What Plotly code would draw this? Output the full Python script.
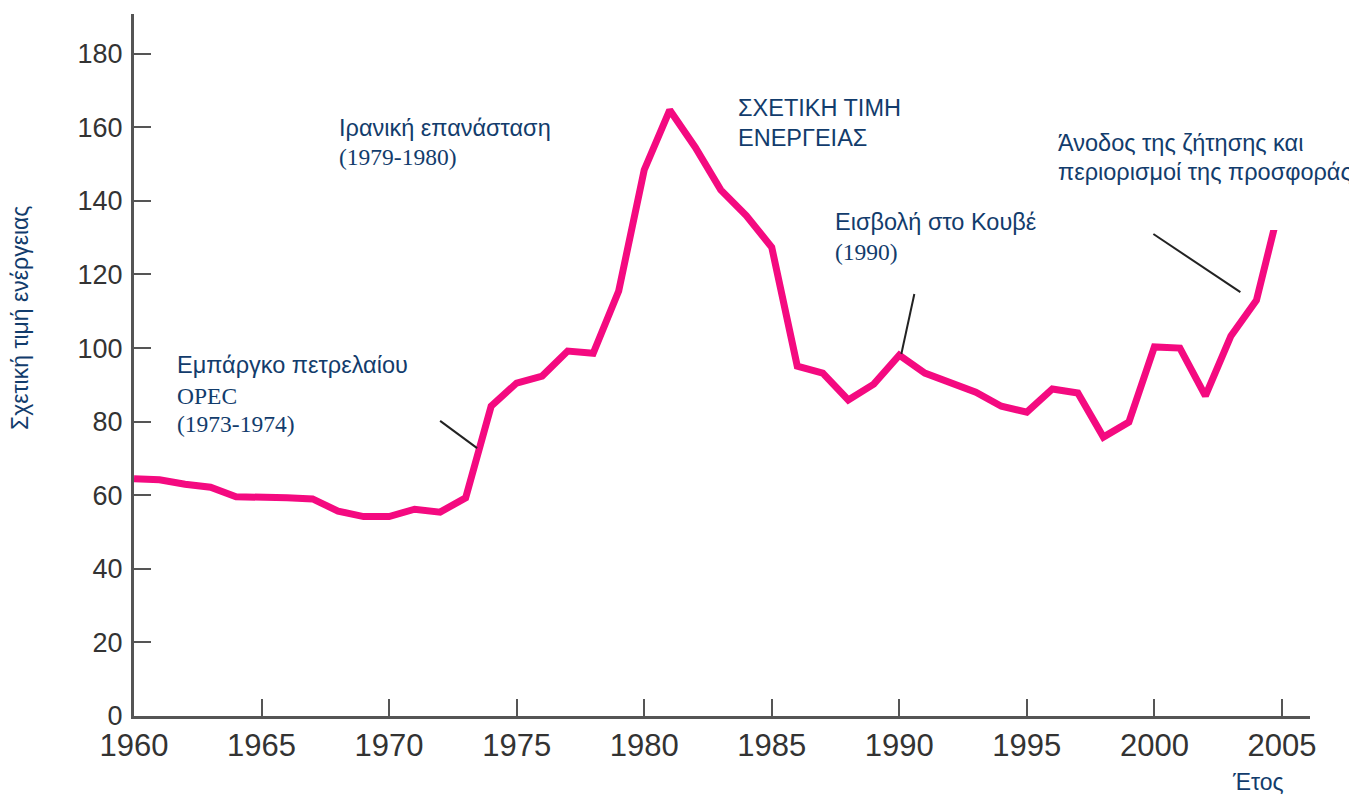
import plotly.graph_objects as go

years = list(range(1960, 2006))
price = [64.5, 64.2, 63.0, 62.2, 59.6, 59.6, 59.3, 59.0, 55.7, 54.2, 54.2, 56.2, 55.4, 59.3,
         84.2, 90.5, 92.4, 99.2, 98.6, 115.5, 148.4, 164.7, 154.6, 143.0, 136.0, 127.4,
         95.1, 93.2, 85.9, 90.2, 98.1, 93.2, 90.5, 88.0, 84.2, 82.6, 88.9, 87.8, 75.8,
         79.9, 100.3, 100.0, 87.0, 103.3, 113.0, 141.0]

x_ticks = [1960, 1965, 1970, 1975, 1980, 1985, 1990, 1995, 2000, 2005]
y_ticks = [0, 20, 40, 60, 80, 100, 120, 140, 160, 180]

NAVY = "#123c6c"
SANS = "Liberation Sans, Arial, sans-serif"
SERIF = "Liberation Serif, Times New Roman, serif"

fig = go.Figure()
fig.add_trace(go.Scatter(x=years, y=price, mode="lines",
                         line=dict(color="#f40a80", width=7),
                         hoverinfo="skip", showlegend=False))

# (text, x, y, font)
labels = [
    ("Εμπάργκο πετρελαίου", 1961.6, 95.4, SANS),
    ("OPEC", 1961.6, 87.0, SERIF),
    ("(1973-1974)", 1961.6, 79.3, SERIF),
    ("Ιρανική επανάσταση", 1967.95, 159.8, SANS),
    ("(1979-1980)", 1967.95, 151.9, SERIF),
    ("ΣΧΕΤΙΚΗ ΤΙΜΗ", 1983.6, 165.2, SANS),
    ("ΕΝΕΡΓΕΙΑΣ", 1983.6, 157.1, SANS),
    ("Εισβολή στο Κουβέ", 1987.4, 134.2, SANS),
    ("(1990)", 1987.4, 126.1, SERIF),
    ("Άνοδος της ζήτησης και", 1996.15, 155.7, SANS),
    ("περιορισμοί της προσφοράς", 1996.15, 147.8, SANS),
]
for txt, x, y, fnt in labels:
    fig.add_annotation(x=x, y=y, xref="x", yref="y", text=txt, showarrow=False,
                       xanchor="left", yanchor="middle",
                       font=dict(family=fnt, size=23.5, color=NAVY))

# leader lines
leaders = [
    (1972.0, 80.2, 1973.45, 72.8),
    (1990.59, 114.7, 1990.08, 98.4),
    (1999.96, 131.0, 2003.37, 115.2),
]
for x0, y0, x1, y1 in leaders:
    fig.add_shape(type="line", x0=x0, y0=y0, x1=x1, y1=y1, xref="x", yref="y",
                  line=dict(color="#222222", width=2))

# white mask (the source picture's line is cut off under a blank box)
fig.add_shape(type="rect", x0=2004.1, x1=2006.0, y0=132.1, y1=152, xref="x", yref="y",
              fillcolor="white", line=dict(width=0), layer="above")

fig.add_annotation(x=-0.0969, y=0.567, xref="paper", yref="paper", text="Σχετική τιμή ενέργειας",
                   textangle=-90, showarrow=False, xanchor="center", yanchor="middle",
                   font=dict(family=SANS, size=23, color=NAVY))
fig.add_annotation(x=0.9558, y=-0.094, xref="paper", yref="paper", text="Έτος",
                   showarrow=False, xanchor="center", yanchor="middle",
                   font=dict(family=SANS, size=23, color=NAVY))

fig.update_xaxes(range=[1960, 2006.1], tickvals=x_ticks, ticktext=[str(v) for v in x_ticks],
                 showgrid=False, zeroline=False, showline=True, linecolor="#555555", linewidth=3,
                 ticks="inside", ticklen=17, tickwidth=2, tickcolor="#555555", automargin=False,
                 tickfont=dict(family=SANS, size=31, color="#333333"))
fig.update_yaxes(range=[0, 190.8], tickvals=y_ticks, ticktext=[str(v) for v in y_ticks],
                 showgrid=False, zeroline=False, showline=True, linecolor="#555555", linewidth=3,
                 ticks="inside", ticklen=17, tickwidth=2, tickcolor="#555555", automargin=False,
                 ticklabelstandoff=3,
                 tickfont=dict(family=SANS, size=27, color="#333333"))

# the page body adds an 8 px offset, so the margins are trimmed by 8 px on left/top
fig.update_layout(width=1357, height=796, margin=dict(l=126, r=55, t=6, b=88, autoexpand=False),
                  plot_bgcolor="white", paper_bgcolor="white", showlegend=False)

fig.write_html("out.html")
